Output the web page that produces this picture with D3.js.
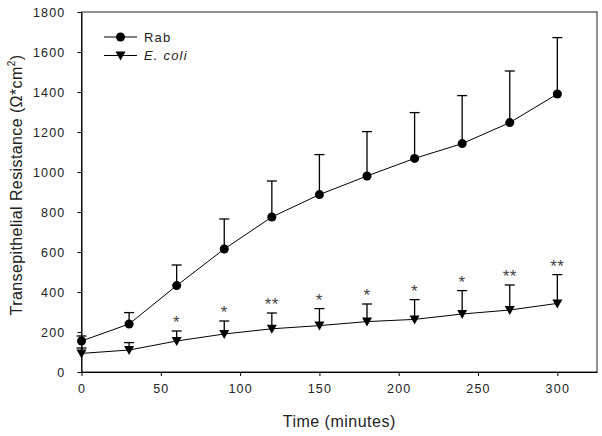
<!DOCTYPE html>
<html><head><meta charset="utf-8">
<script src="https://cdn.jsdelivr.net/npm/d3@7"></script>
<style>body{margin:0;background:#fff}svg{display:block;font-family:Arial,"Liberation Sans",sans-serif}</style>
</head><body><svg id="c" width="602" height="436"></svg>
<script>
const times = [0, 30, 60, 90, 120, 150, 180, 210, 240, 270, 300];
const rabMean = [155, 240, 432, 615, 775, 887, 980, 1068, 1142, 1247, 1390];
const rabSD = [25, 57, 103, 150, 180, 200, 222, 229, 240, 258, 282];
const ecoliMean = [93, 110, 155, 190, 216, 232, 252, 263, 290, 310, 343];
const ecoliSD = [27, 37, 50, 65, 79, 85, 88, 99, 117, 125, 144];
const stars = ["", "", "*", "*", "**", "*", "*", "*", "*", "**", "**"];
const xTicks = [0, 50, 100, 150, 200, 250, 300];
const yTicks = [0, 200, 400, 600, 800, 1000, 1200, 1400, 1600, 1800];

const svg = d3.select("#c");
const L = 81.5, R = 597, T = 12, B = 372;
const x = d3.scaleLinear().domain([0, 325]).range([L, R]);
const y = d3.scaleLinear().domain([0, 1800]).range([B, T]);

// frame
svg.append("rect").attr("x", L).attr("y", T).attr("width", R - L).attr("height", B - T)
  .attr("fill", "none").attr("stroke", "#222").attr("stroke-width", 1);

const xAxis = svg.append("g").attr("transform", `translate(0,${B})`)
  .call(d3.axisBottom(x).tickValues(xTicks).tickFormat(d3.format("d")).tickSize(4).tickSizeOuter(0).tickPadding(8));
const yAxis = svg.append("g").attr("transform", `translate(${L},0)`)
  .call(d3.axisLeft(y).tickValues(yTicks).tickFormat(d3.format("d")).tickSize(4).tickSizeOuter(0).tickPadding(12));
[xAxis, yAxis].forEach(g => {
  g.select(".domain").attr("stroke", "#000");
  g.selectAll(".tick line").attr("stroke", "#000");
  g.selectAll(".tick text").attr("fill", "#222").attr("font-size", 12.5)
    .attr("letter-spacing", 1.2).attr("font-family", "Arial, 'Liberation Sans', sans-serif");
});

svg.append("text").attr("x", (L + R) / 2).attr("y", 427).attr("text-anchor", "middle")
  .attr("font-size", 16).attr("letter-spacing", 0.5).attr("fill", "#222").text("Time (minutes)");
const yl = svg.append("text").attr("transform", "translate(22,185) rotate(-90)")
  .attr("text-anchor", "middle").attr("font-size", 16).attr("letter-spacing", 0.4).attr("fill", "#222");
yl.append("tspan").text("Transepithelial Resistance (Ω*cm");
yl.append("tspan").attr("font-size", 10).attr("dy", -7).text("2");
yl.append("tspan").attr("dy", 7).text(")");

function series(mean, sd, shape) {
  const pts = times.map((t, i) => ({t, m: mean[i], s: sd[i], i}));
  const g = svg.append("g");
  g.selectAll("line.err").data(pts).enter().append("line")
    .attr("x1", d => x(d.t)).attr("x2", d => x(d.t))
    .attr("y1", d => y(d.m)).attr("y2", d => y(d.m + d.s))
    .attr("stroke", "#000").attr("stroke-width", 1.3);
  g.selectAll("line.cap").data(pts).enter().append("line")
    .attr("x1", d => x(d.t) - 5).attr("x2", d => x(d.t) + 5)
    .attr("y1", d => y(d.m + d.s)).attr("y2", d => y(d.m + d.s))
    .attr("stroke", "#000").attr("stroke-width", 1.3);
  g.append("path").datum(pts)
    .attr("d", d3.line().x(d => x(d.t)).y(d => y(d.m)))
    .attr("fill", "none").attr("stroke", "#000").attr("stroke-width", 1);
  g.selectAll("path.m").data(pts).enter().append("path")
    .attr("transform", d => `translate(${x(d.t)},${y(d.m)})`)
    .attr("d", shape).attr("fill", "#000");
  return pts;
}
const circ = d3.symbol().type(d3.symbolCircle).size(64)();
const tri = "M-5,-4L5,-4L0,5Z";
series(rabMean, rabSD, circ);
const ep = series(ecoliMean, ecoliSD, tri);

svg.append("g").selectAll("text").data(ep).enter().append("text")
  .attr("x", d => x(d.t)).attr("y", d => y(d.m + d.s) - 3)
  .attr("text-anchor", "middle").attr("font-size", 17).attr("letter-spacing", 0.5).attr("fill", "#444")
  .text(d => stars[d.i]);

// legend
const leg = [{name: "Rab", shape: circ, it: false}, {name: "E. coli", shape: tri, it: true}];
leg.forEach((d, i) => {
  const yy = 37 + i * 18.5;
  svg.append("line").attr("x1", 104).attr("x2", 137).attr("y1", yy).attr("y2", yy).attr("stroke", "#000");
  svg.append("path").attr("transform", `translate(120.5,${yy})`).attr("d", d.shape).attr("fill", "#000");
  svg.append("text").attr("x", 144).attr("y", yy + 4.5).attr("font-size", 13).attr("letter-spacing", 1.2).attr("fill", "#222")
    .attr("font-style", d.it ? "italic" : "normal").text(d.name);
});
</script></body></html>
